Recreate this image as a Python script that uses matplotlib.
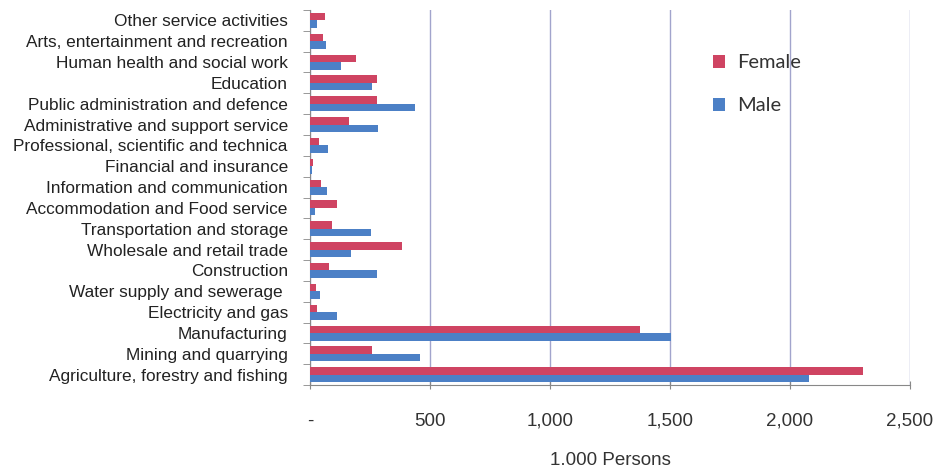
import numpy as np
import matplotlib
matplotlib.use('Agg')
import matplotlib.pyplot as plt
from matplotlib.ticker import FuncFormatter, MultipleLocator

# sectors, bottom to top
sectors = ["Agriculture, forestry and fishing", "Mining and quarrying", "Manufacturing",
           "Electricity and gas", "Water supply and sewerage ", "Construction",
           "Wholesale and retail trade", "Transportation and storage",
           "Accommodation and Food service", "Information and communication",
           "Financial and insurance", "Professional, scientific and technica",
           "Administrative and support service", "Public administration and defence",
           "Education", "Human health and social work", "Arts, entertainment and recreation",
           "Other service activities"]
female = [2304, 258, 1375, 29, 24, 78, 382, 92, 111, 47, 11, 37, 162, 280, 280, 192, 56, 61]
male = [2079, 457, 1504, 111, 42, 280, 172, 255, 19, 69, 7, 75, 285, 436, 258, 129, 65, 28]

red = '#CF4462'
blue = '#4C80C6'

plt.rcParams['font.family'] = ['Liberation Sans', 'DejaVu Sans']

fig = plt.figure(figsize=(9.38, 4.72), dpi=100)
ax = fig.add_axes([0.3305, 0.184, 0.6397, 0.795])

y = np.arange(len(sectors))
h = 0.36
ax.barh(y + h / 2, female, height=h, color=red, label='Female', zorder=3)
ax.barh(y - h / 2, male, height=h, color=blue, label='Male', zorder=3)

ax.set_xlim(0, 2500)
ax.set_ylim(-0.5, len(sectors) - 0.5)
ax.xaxis.set_major_locator(MultipleLocator(500))
ax.xaxis.set_major_formatter(FuncFormatter(lambda v, p: '-' if v == 0 else f'{int(v):,}'))
ax.grid(axis='x', color='#A2A4CC', linewidth=1, zorder=0)

ax.set_yticks(y)
ax.set_yticklabels(sectors, fontsize=12.4, color='#222222')
ax.set_yticks(np.arange(-0.5, len(sectors), 1), minor=True)
ax.tick_params(axis='y', which='major', length=0, pad=16)
ax.tick_params(axis='y', which='minor', length=5, color='#888888', direction='out')
ax.tick_params(axis='x', length=6, color='#888888', direction='inout', pad=17,
               labelsize=13.5, labelcolor='#333333')

for s in ['top', 'right']:
    ax.spines[s].set_visible(False)
for s in ['left', 'bottom']:
    ax.spines[s].set_color('#888888')

ax.set_xlabel('1.000 Persons', fontsize=13.5, color='#333333', labelpad=16)

leg = ax.legend(loc='upper left', bbox_to_anchor=(0.642, 0.93), frameon=False,
                prop={'family': 'Lato', 'size': 14.5}, handlelength=0.6, handleheight=0.6,
                handletextpad=0.6, labelspacing=1.3)
for t in leg.get_texts():
    t.set_color('#333333')

fig.savefig('out.png', dpi=100)
